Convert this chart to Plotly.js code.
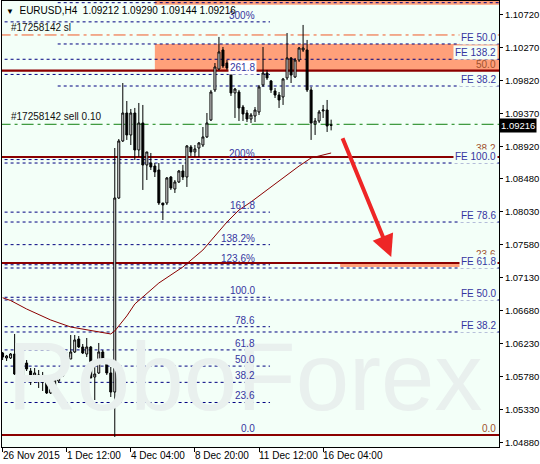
<!DOCTYPE html>
<html><head><meta charset="utf-8">
<script src="https://cdn.plot.ly/plotly-3.0.1.min.js"></script>
<style>html,body{margin:0;padding:0;background:#fff}#chart{width:540px;height:464px}</style>
</head><body><div id="chart"></div>
<script>
// ---- candle data (EURUSD H4), bar index 0 = 26 Nov 2015 20:00 ----
const barIndex = [0,1,2,3,4,5,6,7,8,9,10,11,12,13,14,15,16,17,18,19,20,21,22,23,24,25,26,27,28,29,30,31,32,33,34,35,36,37,38,39,40,41,42,43,44,45,46,47,48,49,50,51,52,53,54,55,56,57,58,59,60,61,62,63,64,65,66,67,68,69,70,71,72,73,74,75,76,77,78,79,80,81,82];
const openP = [1.06103,1.06035,1.06035,1.06089,1.05762,1.05748,1.05966,1.05857,1.05748,1.05803,
1.05789,1.05721,1.05557,1.05625,1.05721,1.05789,1.05925,1.06021,1.06117,1.06294,
1.06185,1.06089,1.06185,1.05775,1.05830,1.06117,1.05994,1.05830,1.05570,1.08220,
1.08999,1.09381,1.09081,1.09381,1.08876,1.09245,1.08671,1.08698,1.08657,1.08603,
1.08152,1.08152,1.08507,1.08343,1.08439,1.08589,1.08507,1.08917,1.08849,1.08903,
1.08944,1.09054,1.09286,1.09696,1.09982,1.10242,1.10064,1.09996,1.09655,1.09668,
1.09463,1.09381,1.09299,1.09340,1.09395,1.09764,1.09928,1.09819,1.09682,1.09627,
1.09600,1.09860,1.10133,1.09873,1.10105,1.10242,1.10242,1.09696,1.09231,1.09272,
1.09409,1.09422,1.09212];
const highP = [1.06117,1.06076,1.06103,1.06363,1.05953,1.06021,1.06007,1.05898,1.05898,1.05871,
1.05844,1.05734,1.05666,1.05762,1.05830,1.06158,1.06117,1.06349,1.06349,1.06335,
1.06226,1.06308,1.06199,1.05966,1.06240,1.06144,1.06021,1.05912,1.08903,1.09026,
1.09791,1.09545,1.09436,1.09450,1.09518,1.09491,1.08849,1.08835,1.08698,1.08698,
1.08152,1.08507,1.08521,1.08466,1.08603,1.08671,1.08944,1.08944,1.08944,1.08985,
1.09190,1.09381,1.09696,1.10064,1.10420,1.10283,1.10105,1.10010,1.09723,1.09696,
1.09491,1.09422,1.09381,1.09463,1.09764,1.10283,1.09969,1.09832,1.09723,1.09668,
1.09860,1.10474,1.10146,1.10133,1.10283,1.10584,1.10379,1.09737,1.09313,1.09422,
1.09491,1.09559,1.09290];
const lowP = [1.06007,1.05994,1.06021,1.05803,1.05707,1.05652,1.05857,1.05666,1.05693,1.05625,
1.05584,1.05543,1.05543,1.05584,1.05693,1.05775,1.05912,1.06021,1.06103,1.06171,
1.06089,1.06048,1.05762,1.05461,1.05816,1.05966,1.05803,1.05502,1.04956,1.08207,
1.08985,1.09013,1.08944,1.08739,1.08780,1.08330,1.08466,1.08603,1.08507,1.08125,
1.07920,1.08125,1.08330,1.08289,1.08425,1.08466,1.08371,1.08794,1.08780,1.08780,
1.08917,1.09040,1.09272,1.09668,1.09969,1.09996,1.09969,1.09614,1.09313,1.09272,
1.09272,1.09258,1.09245,1.09258,1.09354,1.09737,1.09832,1.09655,1.09586,1.09450,
1.09491,1.09832,1.09791,1.09860,1.10078,1.10215,1.09668,1.09013,1.09081,1.09245,
1.09313,1.09122,1.09144];
const closeP = [1.06048,1.06062,1.06089,1.05816,1.05925,1.05966,1.05885,1.05762,1.05830,1.05775,
1.05707,1.05557,1.05625,1.05734,1.05789,1.05925,1.06035,1.06117,1.06281,1.06185,
1.06103,1.06185,1.05762,1.05816,1.06117,1.05980,1.05830,1.05570,1.08220,1.08999,
1.09381,1.09081,1.09381,1.08876,1.09245,1.08671,1.08849,1.08644,1.08576,1.08152,
1.08125,1.08494,1.08357,1.08439,1.08589,1.08507,1.08931,1.08849,1.08890,1.08972,
1.09054,1.09245,1.09668,1.10010,1.10215,1.10023,1.09996,1.09655,1.09709,1.09450,
1.09368,1.09299,1.09354,1.09422,1.09737,1.09928,1.09860,1.09696,1.09627,1.09559,
1.09846,1.10133,1.09900,1.10105,1.10269,1.10269,1.09696,1.09245,1.09272,1.09395,
1.09422,1.09204,1.09216];

// moving average (read at selected bars)
const maIndex = [0,2,6,12,17,20,27,28,29,31,33,35,39,45,50,53,56,59,62,66,70,74,77,80,82];
const maValue = [1.06858,1.06820,1.06704,1.06554,1.06458,1.06431,1.06363,1.06404,1.06472,1.06609,1.06772,1.06868,1.07059,1.07278,1.07510,1.07701,1.07892,1.08056,1.08166,1.08330,1.08494,1.08657,1.08767,1.08808,1.08835];

// axis labels
const timeTickIndex = [0,16,32,48,64,80];
const timeTickText = ['26 Nov 2015','1 Dec 12:00','4 Dec 04:00','8 Dec 20:00','11 Dec 12:00','16 Dec 04:00'];
const priceTicks = [1.10720,1.10270,1.09820,1.09370,1.08920,1.08480,1.08030,1.07580,1.07130,1.06680,1.06230,1.05780,1.05330,1.04880];
const lastPrice = 1.09216;
const header = 'EURUSD,H4  1.09212 1.09290 1.09144 1.09216';

// Fibonacci (left, navy) levels
const fibLabels = ['0.0','23.6','38.2','50.0','61.8','78.6','100.0','123.6%','138.2%','161.8','200%','261.8','300%'];
const fibPrices = [1.04983,1.05427,1.05702,1.05924,1.06145,1.06462,1.06864,1.07308,1.07583,1.08027,1.08745,1.09908,1.10626];
// Fibonacci (dark red) levels
const fib2Labels = ['0.0','23.6','38.2','50.0'];
const fib2Prices = [1.04983,1.07332,1.08780,1.09959];
// Fibo expansion levels
const feLabels = ['', 'FE 50.0','FE 138.2','FE 38.2','FE 100.0','FE 78.6','FE 61.8','FE 50.0','FE 38.2'];
const fePrices = [1.10888,1.10324,1.10115,1.09750,1.08698,1.07892,1.07264,1.06827,1.06390];
const feFullWidth = [false,false,true,false,true,true,true,true,true];
// order lines
const slPrice = 1.10447, slLabel = '#17258142 sl';
const sellPrice = 1.09227, sellLabel = '#17258142 sell 0.10';
// zones
const zoneTop = {x0:38, y0:1.10861, y1:1.11500};
const zoneUpper = {x0:38, y0:1.09959, y1:1.10324};
const zoneLower = {x0:84.25, x1:114.75, y0:1.07278, y1:1.07332};
// forecast arrow
const arrowFrom = {x:84.7, y:1.09058}, arrowTo = {x:97, y:1.07414};
const watermark = 'RoboForex';

// ---- styles ----
const FONT = 'Liberation Sans, Arial, sans-serif';
const BG = '#F3FFF8';
const NAVY = '#000080', LBL = '#3535a0', DRED = '#8B0000', BROWN = '#A0522D', SALMON = '#FFA07A';
const feStartIdx = 13.75, fibEndIdx = 66.75, fibLabelIdx = 63.5;

const shapes = [];
function hl(price, x0, x1, xref, color, width, dash){
  shapes.push({type:'line', xref:xref, yref:'y', x0:x0, x1:x1, y0:price, y1:price,
    line:{color:color, width:width, dash:dash}, layer:'below'});
}
// zones
shapes.push({type:'rect', xref:'x', yref:'y', x0:zoneTop.x0, x1:130, y0:zoneTop.y0, y1:zoneTop.y1, fillcolor:SALMON, line:{width:0}, layer:'below'});
shapes.push({type:'rect', xref:'x', yref:'y', x0:zoneUpper.x0, x1:130, y0:zoneUpper.y0, y1:zoneUpper.y1, fillcolor:SALMON, line:{width:0}, layer:'below'});
shapes.push({type:'rect', xref:'x', yref:'y', x0:zoneLower.x0, x1:zoneLower.x1, y0:zoneLower.y0, y1:zoneLower.y1, fillcolor:SALMON, line:{width:0}, layer:'below'});
// fib left
fibPrices.forEach(p => hl(p, -1, fibEndIdx, 'x', NAVY, 1, '3px,3px'));
// FE
fePrices.forEach((p,i) => hl(p, feFullWidth[i] ? -1 : feStartIdx, 130, 'x', NAVY, 1, '3px,3px'));
// dark red fib
fib2Prices.forEach(p => hl(p, -1, 130, 'x', DRED, 2.2, 'solid'));
// order lines
hl(slPrice, -1, 130, 'x', '#F05A28', 1, '12px,4px,3px,4px');
hl(sellPrice, -1, 130, 'x', '#108010', 1, '12px,4px,3px,4px');

const annotations = [];
function txt(o){ annotations.push(Object.assign({showarrow:false, font:{family:FONT, size:10, color:LBL}, borderpad:1}, o)); }
fibPrices.forEach((p,i) => txt({xref:'x', x:fibLabelIdx, xanchor:'right', yref:'y', y:p, yanchor:'bottom', yshift:-1, text:fibLabels[i],
  bgcolor: fibLabels[i]==='261.8' ? '#ffffff' : 'rgba(0,0,0,0)'}));
// dark red labels (two of them mostly hidden by FE labels)
fib2Prices.forEach((p,i) => txt({xref:'paper', x:1, xanchor:'right', xshift:-1, yref:'y', y:p, yanchor:'bottom', yshift:(i===1||i===2)?1:-1, text:fib2Labels[i], font:{family:FONT,size:10,color:BROWN}}));
// FE labels
fePrices.forEach((p,i) => { if (feLabels[i]) txt({xref:'paper', x:1, xanchor:'right', xshift:-1, yref:'y', y:p, yanchor:'bottom', yshift:-1, text:feLabels[i], bgcolor:BG}); });
// order labels
txt({xref:'paper', x:0, xanchor:'left', xshift:7, yref:'y', y:slPrice, yanchor:'bottom', yshift:0, text:slLabel, font:{family:FONT,size:10,color:'#111'}});
txt({xref:'paper', x:0, xanchor:'left', xshift:7, yref:'y', y:sellPrice, yanchor:'bottom', yshift:0, text:sellLabel, font:{family:FONT,size:10,color:'#111'}});
// header
txt({xref:'paper', x:0, xanchor:'left', xshift:2, yref:'paper', y:1, yanchor:'top', yshift:-2, text:'<span style="font-size:8px">▼</span>  ' + header, font:{family:FONT,size:10,color:'#000'}});
// last price tag
txt({xref:'paper', x:1, xanchor:'left', xshift:0, yref:'y', y:lastPrice, yanchor:'middle', text:lastPrice.toFixed(5), bgcolor:'#000', font:{family:FONT,size:9.5,color:'#fff'}});
// time axis labels (left-aligned at their ticks, as in the terminal)
timeTickIndex.forEach((t,i) => txt({xref:'x', x:t, xanchor:'left', xshift:-2, yref:'paper', y:0, yanchor:'top', yshift:-1, text:timeTickText[i], font:{family:FONT,size:10,color:'#000'}}));
// forecast arrow
annotations.push({xref:'x', yref:'y', x:arrowTo.x, y:arrowTo.y, axref:'x', ayref:'y', ax:arrowFrom.x, ay:arrowFrom.y,
  text:'', showarrow:true, arrowhead:2, arrowsize:1.1, arrowwidth:4, arrowcolor:'#EE2626', standoff:0, startstandoff:0});

const traces = [
  {type:'scatter', mode:'text', x:[60.5], y:[1.05650], text:[watermark], hoverinfo:'skip', cliponaxis:true,
   textfont:{family:'Liberation Sans, Arial', size:96, color:'#E9F0EE'}, showlegend:false},
  {type:'scatter', mode:'lines', x:maIndex, y:maValue, line:{color:DRED, width:1}, hoverinfo:'skip', showlegend:false},
  {type:'candlestick', x:barIndex, open:openP, high:highP, low:lowP, close:closeP, whiskerwidth:0,
   increasing:{line:{color:'#000', width:1}, fillcolor:'#ffffff'},
   decreasing:{line:{color:'#000', width:1}, fillcolor:'#000000'},
   hoverinfo:'skip', showlegend:false}
];

const layout = {
  width:540, height:464, margin:{l:2, r:41, t:1, b:17, pad:0},
  paper_bgcolor:'#ffffff', plot_bgcolor:BG, showlegend:false,
  xaxis:{range:[-0.15,123.9], showgrid:false, zeroline:false, showline:true, linecolor:'#000', linewidth:1, mirror:true,
    ticks:'outside', ticklen:4, tickcolor:'#000', tickvals:timeTickIndex, showticklabels:false,
    rangeslider:{visible:false}, fixedrange:true},
  yaxis:{side:'right', range:[1.04819,1.10911], showgrid:false, zeroline:false, showline:true, linecolor:'#000', linewidth:1, mirror:true,
    ticks:'outside', ticklen:3, tickcolor:'#000', tickvals:priceTicks, ticktext:priceTicks.map(v=>v.toFixed(5)),
    tickfont:{family:FONT, size:9.5, color:'#000'}, fixedrange:true},
  shapes:shapes, annotations:annotations
};
Plotly.newPlot('chart', traces, layout, {staticPlot:true, displayModeBar:false});
</script></body></html>
